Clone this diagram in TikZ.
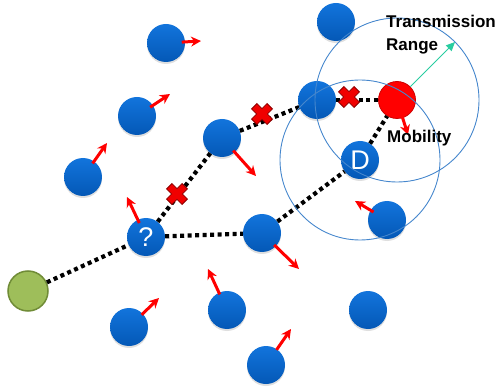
\documentclass[tikz,border=0pt]{standalone}
\usepackage{fontspec}
\setmainfont{Liberation Sans}
\usetikzlibrary{shadows,arrows.meta,calc}
\definecolor{nodetop}{RGB}{18,116,220}
\definecolor{nodebot}{RGB}{4,88,182}
\definecolor{rangeblue}{RGB}{70,135,205}
\definecolor{leafgreen}{RGB}{158,190,90}
\definecolor{leafedge}{RGB}{112,140,55}
\definecolor{xred}{RGB}{240,0,0}
\definecolor{xedge}{RGB}{140,0,0}
\definecolor{mint}{RGB}{40,205,160}
\tikzset{
  mnode/.style={circle, minimum size=38pt, inner sep=0pt, top color=nodetop, bottom color=nodebot,
    drop shadow={opacity=0.25, shadow xshift=0pt, shadow yshift=-2pt}},
  srcnode/.style={circle, minimum size=40pt, inner sep=0pt, fill=leafgreen, draw=leafedge, line width=1.5pt},
  dstnode/.style={circle, minimum size=37pt, inner sep=0pt, fill=red, draw=red!80!black, line width=0.8pt},
  hop/.style={line width=4.2pt, dash pattern=on 4pt off 3.5pt, black},
  mv/.style={draw=red, line width=3pt, -{Stealth[length=10pt,width=10pt]}},
  rangering/.style={draw=rangeblue, line width=0.9pt},
  lbl/.style={font=\bfseries\fontsize{17}{20}\selectfont, anchor=base west, inner sep=0pt},
  glyph/.style={text=white, font=\fontsize{27}{29}\selectfont},
  xmark/.pic={\path[fill=xred, draw=xedge, line width=0.8pt, rotate=45]
    (3.8,11)--(3.8,3.8)--(11,3.8)--(11,-3.8)--(3.8,-3.8)--(3.8,-11)--(-3.8,-11)--(-3.8,-3.8)
    --(-11,-3.8)--(-11,3.8)--(-3.8,3.8)--(-3.8,11)--cycle;}
}
\begin{document}
\begin{tikzpicture}[x=1pt, y=-1pt]
\useasboundingbox (0,0) rectangle (500,387);

% mobile nodes
\node[mnode] (a) at (166,43) {};
\node[mnode] (b) at (137,116) {};
\node[mnode] (c) at (83,177) {};
\node[mnode] (e) at (222,138) {};
\node[mnode] (top) at (336,22) {};
\node[mnode] (f) at (317,100) {};
\node[mnode, glyph] (d) at (360,160) {D};
\node[mnode] (g) at (387,220) {};
\node[mnode] (h) at (262,233) {};
\node[mnode, glyph] (q) at (146,237) {?};
\node[mnode] (i) at (129,327) {};
\node[mnode] (j) at (227,310) {};
\node[mnode] (k) at (368,310) {};
\node[mnode] (l) at (266,365) {};
\node[srcnode] (src) at (28,291) {};
\node[dstnode] (r) at (397,100) {};

% multi-hop route attempts
\draw[hop] (src) -- (q);
\draw[hop] (q) -- (h);
\draw[hop] (h) -- (d);
\draw[hop] (d) -- (r);
\draw[hop] (q) -- (e);
\draw[hop] (e) -- (f);
\draw[hop] (f) -- (r);

% broken links
\pic at (177,194) {xmark};
\pic at (262,114) {xmark};
\pic at (349,97) {xmark};

% movement directions
\coordinate (ta) at (201,41);
\coordinate (tb) at (170,94);
\coordinate (tc) at (107,143);
\coordinate (te) at (256,176);
\coordinate (tr) at (408,135);
\coordinate (tg) at (355,201);
\coordinate (th) at (299,269);
\coordinate (tq) at (127,197);
\coordinate (ti) at (159,298);
\coordinate (tj) at (208,269);
\coordinate (tl) at (291,329);
\draw[mv] ($(a)!0.45!(ta)$) -- (ta);
\draw[mv] ($(b)!0.4!(tb)$) -- (tb);
\draw[mv] ($(c)!0.4!(tc)$) -- (tc);
\draw[mv] ($(e)!0.33!(te)$) -- (te);
\draw[mv] ($(r)!0.45!(tr)$) -- (tr);
\draw[mv] ($(g)!0.42!(tg)$) -- (tg);
\draw[mv] ($(h)!0.33!(th)$) -- (th);
\draw[mv] ($(q)!0.35!(tq)$) -- (tq);
\draw[mv] ($(i)!0.42!(ti)$) -- (ti);
\draw[mv] ($(j)!0.38!(tj)$) -- (tj);
\draw[mv] ($(l)!0.42!(tl)$) -- (tl);

% transmission ranges
\draw[rangering] (r.center) circle[radius=82];
\draw[rangering] (d.center) circle[radius=80];
\coordinate (rangeend) at (455,42);
\draw[draw=mint, line width=0.8pt, -{Triangle[length=9pt,width=8pt]}] (r) -- (rangeend);

% labels
\node[lbl] (t1) at (386,28) {Transmission};
\node[lbl] (t2) at (386,51) {Range};
\node[lbl] (t3) at (387,143) {Mobility};
\end{tikzpicture}
\end{document}
